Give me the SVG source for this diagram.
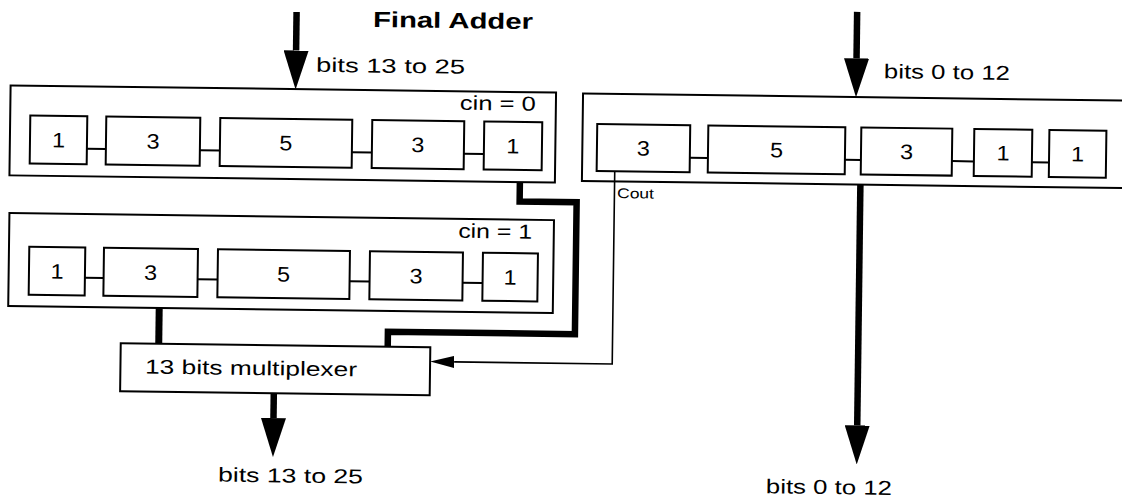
<svg xmlns="http://www.w3.org/2000/svg" width="1122" height="501" viewBox="0 0 1122 501">
<style>
.frame{fill:none;stroke:#000;stroke-width:2}
.box{fill:#fff;stroke:#000;stroke-width:2}
.wire{fill:none;stroke:#000;stroke-width:2}
.thin{fill:none;stroke:#000;stroke-width:1.6}
.bus{fill:none;stroke:#000;stroke-width:6.5}
text{font-family:"Liberation Sans",Arial,Helvetica,sans-serif;font-size:20px;fill:#000}
.d{text-anchor:middle;font-size:21px}
.title{font-weight:bold;font-size:22px}
.small{font-size:14px}
</style>
<defs>
<marker id="big" viewBox="0 0 39 25" refX="0" refY="12.5" markerWidth="39" markerHeight="25" markerUnits="userSpaceOnUse" orient="auto">
<path d="M0,0 L39,12.5 L0,25 Z" fill="#000"/>
</marker>
<marker id="small" viewBox="0 0 24 12" refX="0" refY="6" markerWidth="24" markerHeight="12" markerUnits="userSpaceOnUse" orient="auto">
<path d="M0,0 L24,6 L0,12 Z" fill="#000"/>
</marker>
</defs>
<rect width="1122" height="501" fill="#fff"/>
<g transform="rotate(0.75 560 250)">
<text class="title" x="370" y="29.4" textLength="160" lengthAdjust="spacingAndGlyphs">Final Adder</text>

<g id="adder-cin0">
<rect class="frame" x="8.5" y="92.6" width="545.5" height="90"/>
<text x="458" y="111" textLength="76" lengthAdjust="spacingAndGlyphs">cin = 0</text>
<g class="wire"><path d="M85.6 155H104.6M198.6 155H218.6M350.6 155H370.6M462.6 155H482.6"/></g>
<rect class="box" x="28.6" y="122.5" width="57" height="48"/>
<rect class="box" x="104.6" y="122.5" width="94" height="48"/>
<rect class="box" x="218.6" y="122.5" width="132" height="48"/>
<rect class="box" x="370.6" y="122.5" width="92" height="48"/>
<rect class="box" x="482.6" y="122.5" width="58" height="48"/>
<text class="d" x="57.1" y="154" textLength="13" lengthAdjust="spacingAndGlyphs">1</text>
<text class="d" x="151.6" y="154" textLength="13" lengthAdjust="spacingAndGlyphs">3</text>
<text class="d" x="284.6" y="154" textLength="13" lengthAdjust="spacingAndGlyphs">5</text>
<text class="d" x="416.6" y="154" textLength="13" lengthAdjust="spacingAndGlyphs">3</text>
<text class="d" x="511.6" y="154" textLength="13" lengthAdjust="spacingAndGlyphs">1</text>
</g>

<g id="adder-cin1">
<rect class="frame" x="9" y="220.2" width="544.6" height="93"/>
<text x="458" y="239" textLength="74" lengthAdjust="spacingAndGlyphs">cin = 1</text>
<g class="wire"><path d="M85.3 284H104M198 284H218M350 284H370M463 284H483"/></g>
<rect class="box" x="29.3" y="253.7" width="56" height="48"/>
<rect class="box" x="104" y="253.7" width="94" height="48"/>
<rect class="box" x="218" y="253.7" width="132" height="48"/>
<rect class="box" x="370" y="253.7" width="93" height="48"/>
<rect class="box" x="483" y="253.7" width="55" height="48"/>
<text class="d" x="57.3" y="285.2" textLength="13" lengthAdjust="spacingAndGlyphs">1</text>
<text class="d" x="151" y="285.2" textLength="13" lengthAdjust="spacingAndGlyphs">3</text>
<text class="d" x="284" y="285.2" textLength="13" lengthAdjust="spacingAndGlyphs">5</text>
<text class="d" x="416.5" y="285.2" textLength="13" lengthAdjust="spacingAndGlyphs">3</text>
<text class="d" x="510.5" y="285.2" textLength="13" lengthAdjust="spacingAndGlyphs">1</text>
</g>

<g id="adder-low">
<rect class="frame" x="581" y="93.2" width="570" height="87.5"/>
<g class="wire"><path d="M688.6 156H706.7M843.7 156H859.7M950.7 156H972.7M1030.7 156H1047.8"/></g>
<rect class="box" x="595.6" y="123.5" width="93" height="47"/>
<rect class="box" x="706.7" y="123.5" width="137" height="47"/>
<rect class="box" x="859.7" y="123.5" width="91" height="47"/>
<rect class="box" x="972.7" y="123.5" width="58" height="47"/>
<rect class="box" x="1047.8" y="123.5" width="57" height="47"/>
<text class="d" x="642.1" y="154.5" textLength="13" lengthAdjust="spacingAndGlyphs">3</text>
<text class="d" x="775.2" y="154.5" textLength="13" lengthAdjust="spacingAndGlyphs">5</text>
<text class="d" x="905.2" y="154.5" textLength="13" lengthAdjust="spacingAndGlyphs">3</text>
<text class="d" x="1001.7" y="154.5" textLength="13" lengthAdjust="spacingAndGlyphs">1</text>
<text class="d" x="1076.3" y="154.5" textLength="13" lengthAdjust="spacingAndGlyphs">1</text>
</g>

<g id="mux">
<rect class="box" x="122" y="349" width="309.6" height="48"/>
<text x="146.6" y="379" textLength="212" lengthAdjust="spacingAndGlyphs">13 bits multiplexer</text>
</g>

<g id="connectors">
<line class="bus" x1="293.5" y1="15.5" x2="293.5" y2="54" marker-end="url(#big)"/>
<line class="bus" x1="854" y1="8" x2="854" y2="54.5" marker-end="url(#big)"/>
<line class="bus" x1="859.5" y1="180.7" x2="859.5" y2="421.5" marker-end="url(#big)"/>
<line class="bus" x1="275.7" y1="396.8" x2="275.7" y2="421.8" marker-end="url(#big)"/>
<path class="bus" d="M519 182.6V202H576V334H389V349"/>
<line class="bus" x1="160" y1="313.2" x2="160" y2="349" style="stroke-width:7"/>
<path class="thin" d="M613.7 170.3V363.3H455.6" marker-end="url(#small)"/>
</g>

<g id="labels">
<text x="313.7" y="75" textLength="149" lengthAdjust="spacingAndGlyphs">bits 13 to 25</text>
<text x="881.6" y="74" textLength="126" lengthAdjust="spacingAndGlyphs">bits 0 to 12</text>
<text class="small" x="616.3" y="197.3" textLength="37" lengthAdjust="spacingAndGlyphs">Cout</text>
<text x="221" y="486" textLength="145" lengthAdjust="spacingAndGlyphs">bits 13 to 25</text>
<text x="769" y="490.5" textLength="126" lengthAdjust="spacingAndGlyphs">bits 0 to 12</text>
</g>
</g>
</svg>
